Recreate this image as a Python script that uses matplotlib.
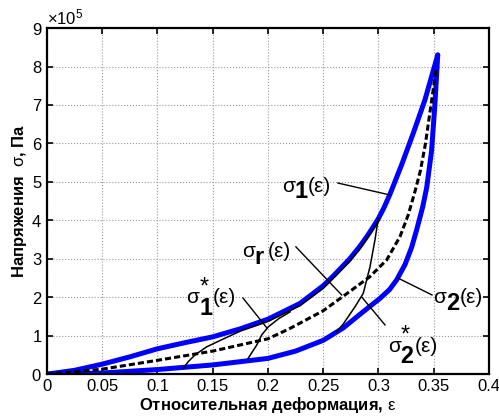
import numpy as np
import matplotlib
matplotlib.use('Agg')
import matplotlib.pyplot as plt

plt.rcParams['font.family'] = ['Liberation Sans', 'DejaVu Sans']
plt.rcParams['mathtext.fontset'] = 'custom'
plt.rcParams['mathtext.rm'] = 'Liberation Sans'
plt.rcParams['mathtext.it'] = 'Liberation Sans:italic'
plt.rcParams['mathtext.bf'] = 'Liberation Sans:bold'

# деформация / напряжение (в единицах 1e5 Па)
eps_1 = [0, 0.025, 0.05, 0.075, 0.1, 0.125, 0.15, 0.175, 0.2, 0.229, 0.25, 0.259,
         0.274, 0.2833, 0.29, 0.295, 0.3, 0.305, 0.3104, 0.321, 0.3315, 0.342, 0.3536]
sig_1 = [0, 0.1, 0.26, 0.45, 0.66, 0.82, 0.97, 1.18, 1.43, 1.84, 2.3, 2.55,
         3.0, 3.33, 3.6, 3.82, 4.05, 4.33, 4.68, 5.45, 6.27, 7.13, 8.3]

eps_2 = [0, 0.05, 0.1, 0.15, 0.2, 0.225, 0.25, 0.268, 0.286, 0.3013, 0.31, 0.3164, 0.324,
         0.33, 0.3345, 0.34, 0.3436, 0.348, 0.351, 0.3536]
sig_2 = [0, 0.03, 0.12, 0.24, 0.41, 0.6, 0.88, 1.2, 1.62, 1.97, 2.2, 2.45, 2.85,
         3.3, 3.75, 4.35, 4.85, 5.8, 7.0, 8.3]

eps_r = [0, 0.05, 0.1, 0.15, 0.2, 0.22, 0.25, 0.274, 0.292, 0.3074, 0.3195, 0.327,
         0.333, 0.338, 0.3425, 0.346, 0.349, 0.352]
sig_r = [0, 0.13, 0.36, 0.6, 0.92, 1.19, 1.65, 2.15, 2.53, 2.97, 3.58, 4.15,
         4.75, 5.3, 6.0, 6.7, 7.3, 7.9]

# тонкие кривые
eps_1s_a = [0.1234, 0.128, 0.134, 0.1445, 0.157, 0.175, 0.2, 0.229, 0.25, 0.274, 0.2833, 0.3]
sig_1s_a = [0.15, 0.33, 0.5, 0.71, 0.88, 1.12, 1.37, 1.78, 2.23, 2.93, 3.26, 3.98]
eps_1s_b = [0.182, 0.1897, 0.1943, 0.2003, 0.21, 0.22]
sig_1s_b = [0.41, 0.75, 1.02, 1.23, 1.45, 1.62]
eps_2s = [0.2998, 0.2968, 0.2923, 0.2862, 0.2787, 0.268, 0.262]
sig_2s = [4.05, 3.49, 2.79, 2.1, 1.75, 1.3, 1.1]

x_ticks = [0, 0.05, 0.1, 0.15, 0.2, 0.25, 0.3, 0.35, 0.4]
x_labels = ['0', '0.05', '0.1', '0.15', '0.2', '0.25', '0.3', '0.35', '0.4']
y_ticks = [0, 1, 2, 3, 4, 5, 6, 7, 8, 9]

scale = 1e5

fig = plt.figure(figsize=(4.99, 4.19), dpi=100)
ax = fig.add_axes([0.094, 0.107, 0.886, 0.826])

ax.plot(eps_1, np.array(sig_1) * scale, color='#0000ff', lw=3.6, solid_capstyle='round')
ax.plot(eps_2, np.array(sig_2) * scale, color='#0000ff', lw=3.6, solid_capstyle='round')
ax.plot(eps_1s_a, np.array(sig_1s_a) * scale, color='black', lw=1.1)
ax.plot(eps_1s_b, np.array(sig_1s_b) * scale, color='black', lw=1.1)
ax.plot(eps_2s, np.array(sig_2s) * scale, color='black', lw=1.1)
ax.plot(eps_r, np.array(sig_r) * scale, color='black', lw=2.2, ls=(0, (2, 1)))


def sig_label(x, y, idx, star=False):
    kw = dict(xycoords='data', textcoords='offset points', va='baseline', ha='left')
    ax.annotate('σ', (x, y * scale), xytext=(0, 0), fontsize=15, **kw)
    if star:
        # звёздочка и индекс одним текстом
        ax.annotate(r'${}^{*}_{\mathbf{%s}}$' % idx, (x, y * scale), xytext=(8.6, -2.5),
                    fontsize=24, **kw)
    else:
        ax.annotate(idx, (x, y * scale), xytext=(9.2, -5), fontsize=17, fontweight='bold', **kw)
    ax.annotate('(ε)', (x, y * scale), xytext=(19, 0), fontsize=15, **kw)


# подписи и выноски
sig_label(0.2125, 4.75, '1')
ax.plot([0.2633, 0.3104], [4.97 * scale, 4.66 * scale], color='black', lw=1)
sig_label(0.1762, 3.04, 'r')
ax.plot([0.2253, 0.2667], [3.31 * scale, 2.06 * scale], color='black', lw=1)
sig_label(0.1264, 1.84, '1', star=True)
ax.plot([0.1774, 0.1991], [1.98 * scale, 1.2 * scale], color='black', lw=1)
sig_label(0.3496, 1.84, '2')
ax.plot([0.3484, 0.3176], [2.06 * scale, 2.5 * scale], color='black', lw=1)
sig_label(0.3089, 0.58, '2', star=True)
ax.plot([0.3059, 0.285], [1.28 * scale, 2.0 * scale], color='black', lw=1)

ax.set_xlim(0, 0.4)
ax.set_ylim(0, 9 * scale)
ax.set_xticks(x_ticks)
ax.set_xticklabels(x_labels)
ax.set_yticks(np.array(y_ticks) * scale)
ax.ticklabel_format(axis='y', style='sci', scilimits=(0, 0), useMathText=True)
ax.yaxis.get_offset_text().set_fontsize(12)
ax.tick_params(direction='in', top=True, right=True, labelsize=12, length=4, width=1.2)
for s in ax.spines.values():
    s.set_linewidth(1.6)
ax.grid(True, ls=':', color='#999999', lw=0.8)

ax.set_xlabel('Относительная деформация, $\\mathrm{\\varepsilon}$', fontsize=12, fontweight='bold', labelpad=1)
ax.set_ylabel('Напряжения  $\\mathrm{\\sigma}$, Па', fontsize=12, fontweight='bold', labelpad=2)

fig.savefig('out.png', dpi=100)
